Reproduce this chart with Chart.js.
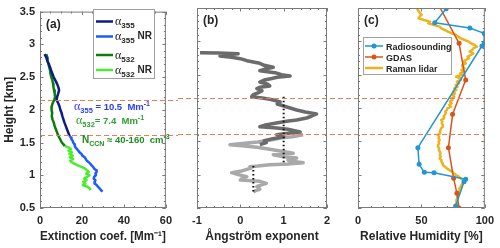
<!DOCTYPE html>
<html>
<head>
<meta charset="utf-8">
<script src="https://cdn.jsdelivr.net/npm/chart.js@4.4.1/dist/chart.umd.min.js"></script>
<style>
  body { margin: 0; background: #fff; }
  #wrap { position: relative; width: 500px; height: 248px; }
  canvas { position: absolute; top: 0; }
</style>
</head>
<body>
<div id="wrap">
  <canvas id="extChart" width="178" height="248" style="left:0"></canvas>
  <canvas id="angChart" width="160" height="248" style="left:178px"></canvas>
  <canvas id="rhChart" width="162" height="248" style="left:338px"></canvas>
</div>
<script>
// tick labels
const heightTicks = [0.5, 1, 1.5, 2, 2.5, 3, 3.5];
const extTicks = [0, 20, 40, 60];
const angTicks = [-1, 0, 1, 2];
const rhTicks = [0, 50, 100];
// layer boundaries (dashed lines), km
const layerBounds = [2.15, 1.61];

// (a) extinction coefficient, Mm-1
const ext355H = [2.85,2.80,2.75,2.70,2.65,2.60,2.55,2.50,2.45,2.40,2.35,2.30,2.25,2.20,2.15,2.10,2.05,2.00,1.95,1.90,1.85,1.80,1.75,1.70,1.65,1.60];
const ext355  = [2.2,3.0,3.5,4.2,4.8,5.3,5.9,6.5,7.3,8.1,8.7,9.1,8.7,8.2,7.9,8.7,9.3,9.7,10.3,10.7,11.2,11.7,12.3,12.9,13.5,14.1];
const ext355NRH = [1.60,1.575,1.55,1.525,1.50,1.475,1.45,1.425,1.40,1.375,1.35,1.325,1.30,1.275,1.25,1.225,1.20,1.175,1.15,1.125,1.10,1.075,1.05,1.025,1.00,0.975,0.95,0.925,0.90,0.875,0.85,0.825,0.80,0.775,0.75];
const ext355NR  = [14.1,14.8,15.0,15.6,15.8,16.4,16.6,16.9,17.6,18.3,18.8,19.8,20.2,21.3,21.8,22.2,23.2,24.0,24.6,25.4,25.9,26.8,27.0,26.4,26.6,25.8,25.6,26.4,26.2,26.0,27.0,27.6,28.4,29.0,29.8];
const ext532H = [2.85,2.80,2.75,2.70,2.65,2.60,2.55,2.50,2.45,2.40,2.35,2.30,2.25,2.20,2.15,2.10,2.05,2.00,1.95,1.90,1.85,1.80,1.75,1.70,1.65,1.60,1.55,1.50,1.45];
const ext532  = [3.0,3.4,3.6,4.0,4.4,4.8,5.0,5.4,5.9,6.2,6.4,6.7,7.0,7.2,6.8,6.0,5.6,5.5,5.8,5.6,6.0,6.6,7.0,7.6,8.2,8.8,9.6,10.4,11.8];
const ext532NRH = [1.45,1.425,1.40,1.375,1.35,1.325,1.30,1.275,1.25,1.225,1.20,1.175,1.15,1.125,1.10,1.075,1.05,1.025,1.00,0.975,0.95,0.925,0.90,0.875,0.85,0.825,0.80,0.775];
const ext532NR  = [11.8,13.5,14.8,13.6,15.2,14.0,15.6,14.2,15.8,14.4,15.0,16.5,18.0,20.0,21.5,22.4,23.2,22.0,23.6,22.4,21.0,22.2,20.6,21.6,20.4,22.6,23.6,24.2];

// (b) Angstrom exponent
const angUpperH = [2.83,2.825,2.815,2.80,2.78,2.76,2.74,2.71,2.69,2.67,2.64,2.61,2.58,2.56,2.53,2.50,2.48,2.46,2.44,2.42,2.39,2.36,2.33,2.31,2.29,2.26,2.23,2.20,2.17,2.15,2.13,2.11,2.09,2.06,2.03,2.00,1.97,1.94,1.91,1.88,1.85,1.82,1.80,1.77,1.74,1.72,1.70,1.68,1.66,1.64,1.62,1.60,1.57,1.54,1.51,1.48,1.45];
const angUpper  = [-0.93,-0.5,-0.05,-0.3,-0.47,-0.2,0.0,0.15,0.3,0.45,0.55,0.76,0.55,0.45,0.8,0.95,1.15,0.85,0.7,0.55,0.45,0.62,0.68,0.45,0.38,0.5,0.42,0.3,0.26,0.5,0.68,0.82,0.92,0.85,1.0,1.15,1.3,1.5,1.76,1.65,1.53,1.3,1.07,0.8,0.55,0.45,0.84,1.1,1.25,1.38,1.1,0.84,1.0,0.75,0.55,0.6,0.45];
const angLowerH = [1.60,1.57,1.55,1.52,1.49,1.47,1.45,1.43,1.41,1.38,1.35,1.32,1.30,1.27,1.25,1.22,1.20,1.18,1.16,1.15,1.13,1.12,1.10,1.08,1.05,1.03,1.00,0.97,0.95,0.92,0.90,0.87,0.85,0.82,0.80,0.78,0.76,0.74];
const angLower  = [1.45,1.2,0.92,0.7,0.4,0.1,-0.24,0.1,0.38,0.68,0.95,1.22,0.76,1.0,1.3,1.1,1.2,1.45,1.1,0.68,0.4,0.22,0.25,0.15,0.0,-0.2,-0.05,0.15,0.05,0.0,0.45,0.6,0.5,0.38,0.42,0.45,0.35,0.3];
// layer mean values (dotted)
const angMeanUpperH = [2.17, 1.15];
const angMeanUpper  = [1.0, 1.0];
const angMeanLowerH = [1.13, 0.71];
const angMeanLower  = [0.3, 0.3];

// (c) relative humidity, %
const radioH  = [3.49,3.28,3.20,3.12,2.97,2.93,1.405,1.155,1.035,1.03,0.93,0.895,0.53];
const radioRH = [69.5,60.5,88.2,99.5,99.5,97.7,47.2,48.2,52.3,60,84.9,83.6,77];
const gdasH  = [3.62,2.97,2.42,1.905,1.405,0.945,0.72,0.5];
const gdasRH = [61.5,79.7,84.9,74.6,71.3,75.4,78,79.7];
const ramanH = [3.50,3.46,3.42,3.40,3.37,3.345,3.32,3.295,3.27,3.245,3.22,3.19,3.17,3.145,3.12,3.095,3.07,3.045,3.02,2.995,2.97,2.945,2.92,2.895,2.87,2.845,2.82,2.795,2.77,2.745,2.72,2.695,2.67,2.645,2.62,2.595,2.57,2.545,2.52,2.495,2.47,2.445,2.42,2.395,2.37,2.345,2.32,2.295,2.27,2.245,2.22,2.195,2.17,2.145,2.12,2.095,2.07,2.045,2.02,1.995,1.97,1.945,1.92,1.895,1.87,1.845,1.82,1.795,1.77,1.745,1.72,1.695,1.67,1.645,1.62,1.595,1.57,1.545,1.52,1.495,1.47,1.445,1.42,1.395,1.37,1.345,1.32,1.295,1.27,1.245,1.22,1.195,1.17,1.145,1.12,1.095,1.07,1.045,1.02,0.995,0.97,0.945,0.93,0.91,0.895,0.87,0.845,0.82,0.795,0.77,0.745,0.72,0.695,0.67,0.645,0.62,0.595,0.57,0.545,0.52,0.5];
const ramanRH = [46.4,47.5,49.0,50.2,48.5,47.7,52,56.7,55.4,60,64.4,66,68.5,70.8,74,77.2,79,81,84,87.4,89,92,93.8,91,90,88,91,89,86.5,87.5,84.9,83,85,82.5,82.3,84,81.5,83.6,80.5,82,77.2,80.5,81,78,79.7,77,78.5,76,77.5,75,76.5,74.5,75.9,73.5,74.5,72.5,73.8,72,73.3,70.5,70,68.8,69.2,68.2,67.5,67.8,65.6,66.5,66,66.8,66.9,65.5,65.1,64.5,64.8,63,64,63.5,64.4,63.5,64,63.2,63,64,63.8,64.6,65.1,64.5,65.2,64.4,65.5,65.8,66.5,66.9,68.5,70,72,74,75.5,77.2,79.5,81,82.3,83.5,83.6,82.5,81.5,81,80.2,80,79.5,79.2,78.8,78.5,78.3,78,78,77.6,77.5,77.3,77.2];

const ink = '#262626';
const sans = "'Liberation Sans', Arial, sans-serif";
const serif = "'Liberation Serif', 'Times New Roman', serif";
Chart.defaults.font.family = sans;
Chart.defaults.color = ink;

function pairs(xs, hs) {
    return xs.map((v, i) => ({ x: v, y: hs[i] }));
}

function trace(label, xs, hs, color, width, extra) {
    return Object.assign({
        label: label,
        data: pairs(xs, hs),
        showLine: true,
        borderColor: color,
        backgroundColor: color,
        borderWidth: width,
        borderJoinStyle: 'round',
        pointRadius: 0
    }, extra || {});
}

// text with sub/superscripts: parts = [text, font, dy]
function drawRich(ctx, x, y, parts, color) {
    ctx.fillStyle = color;
    ctx.textAlign = 'left';
    ctx.textBaseline = 'alphabetic';
    parts.forEach(p => {
        ctx.font = p[1];
        ctx.fillText(p[0], x, y + (p[2] || 0));
        x += ctx.measureText(p[0]).width;
    });
}

function drawAlphaLegend(chart) {
    const ctx = chart.ctx;
    const rows = [21.5, 36.5, 55, 70];
    ctx.fillStyle = '#fff';
    ctx.fillRect(93, 9, 61, 69);
    ctx.strokeStyle = '#a0a0a0';
    ctx.lineWidth = 1;
    ctx.strokeRect(93.5, 9.5, 61, 69);
    chart.data.datasets.forEach((ds, i) => {
        const yy = rows[i];
        ctx.strokeStyle = ds.borderColor;
        ctx.lineWidth = 2.5;
        ctx.beginPath();
        ctx.moveTo(96, yy);
        ctx.lineTo(113, yy);
        ctx.stroke();
        const m = ds.label.match(/^(α)(\d+)(.*)$/);
        drawRich(ctx, 115, yy + 3.5, [
            [m[1], '12px ' + serif, 0],
            [m[2], 'bold 8px ' + sans, 3],
            [m[3], 'bold 10px ' + sans, -1]
        ], ink);
    });
}

function drawRhLegend(chart) {
    const ctx = chart.ctx;
    const rows = [46, 57, 68];
    ctx.fillStyle = '#fff';
    ctx.fillRect(25, 37, 88, 37);
    ctx.strokeStyle = '#a0a0a0';
    ctx.lineWidth = 1;
    ctx.strokeRect(25.5, 37.5, 88, 37);
    chart.data.datasets.forEach((ds, i) => {
        const yy = rows[i];
        ctx.strokeStyle = ds.borderColor;
        ctx.lineWidth = ds.borderWidth;
        ctx.beginPath();
        ctx.moveTo(27, yy);
        ctx.lineTo(45, yy);
        ctx.stroke();
        if (ds.pointRadius > 0) {
            ctx.fillStyle = ds.borderColor;
            ctx.beginPath();
            ctx.arc(36, yy, ds.pointRadius, 0, Math.PI * 2);
            ctx.fill();
        }
        drawRich(ctx, 48, yy + 3.5, [[ds.label, 'bold 9px ' + sans, 0]], ink);
    });
}

function drawNotes(ctx) {
    drawRich(ctx, 74, 110, [
        ['α', '12px ' + serif, 0], ['355', 'bold 7.5px ' + sans, 3],
        [' = 10.5  Mm', 'bold 9.5px ' + sans, 0], ['-1', 'bold 7px ' + sans, -4]
    ], '#2a3cf5');
    drawRich(ctx, 76, 124, [
        ['α', '12px ' + serif, 0], ['532', 'bold 7.5px ' + sans, 3],
        ['= 7.4  Mm', 'bold 9.5px ' + sans, 0], ['-1', 'bold 7px ' + sans, -4]
    ], '#2f9f2f');
    drawRich(ctx, 82, 143, [
        ['N', 'bold 10px ' + sans, 0], ['CCN', 'bold 7px ' + sans, 3],
        [' ≈ 40-160  cm', 'bold 9.5px ' + sans, 0], ['-3', 'bold 7px ' + sans, -4]
    ], '#1f8f1f');
}

// box, inward ticks, layer lines, legends
const framePlugin = {
    id: 'frame',
    afterDatasetsDraw(chart, args, opts) {
        const ctx = chart.ctx;
        const a = chart.chartArea;
        const sx = chart.scales.x, sy = chart.scales.y;
        ctx.save();

        // dashed layer boundaries, running across the panel gaps
        ctx.strokeStyle = '#ee7d55';
        ctx.lineWidth = 1.2;
        ctx.setLineDash([5, 3]);
        layerBounds.forEach(h => {
            const py = Math.round(sy.getPixelForValue(h)) + 0.5;
            ctx.beginPath();
            ctx.moveTo(opts.lineFrom === 'edge' ? 0 : a.left, py);
            ctx.lineTo(opts.lineTo === 'edge' ? chart.width : a.right, py);
            ctx.stroke();
        });
        ctx.setLineDash([]);

        // box
        ctx.strokeStyle = '#7a7a7a';
        ctx.lineWidth = 1;
        ctx.strokeRect(a.left + 0.5, a.top + 0.5, a.right - a.left - 1, a.bottom - a.top - 1);

        // inward ticks
        ctx.beginPath();
        const nx = Math.round((sx.max - sx.min) / opts.xMinor);
        for (let i = 0; i <= nx; i++) {
            const v = sx.min + i * opts.xMinor;
            const r = v / opts.xMajor;
            const len = Math.abs(r - Math.round(r)) < 1e-6 ? 3.5 : 2;
            const px = Math.round(sx.getPixelForValue(v)) + 0.5;
            ctx.moveTo(px, a.bottom); ctx.lineTo(px, a.bottom - len);
            ctx.moveTo(px, a.top); ctx.lineTo(px, a.top + len);
        }
        const ny = Math.round((sy.max - sy.min) / 0.1);
        for (let i = 0; i <= ny; i++) {
            const v = sy.min + i * 0.1;
            const r = v / 0.5;
            const len = Math.abs(r - Math.round(r)) < 1e-6 ? 3.5 : 2;
            const py = Math.round(sy.getPixelForValue(v)) + 0.5;
            ctx.moveTo(a.left, py); ctx.lineTo(a.left + len, py);
            ctx.moveTo(a.right, py); ctx.lineTo(a.right - len, py);
        }
        ctx.stroke();

        if (opts.legend === 'alpha') {
            drawAlphaLegend(chart);
            drawNotes(ctx);
        }
        if (opts.legend === 'rh') drawRhLegend(chart);

        // panel tag
        ctx.fillStyle = ink;
        ctx.font = 'bold 12px ' + sans;
        ctx.textAlign = 'left';
        ctx.textBaseline = 'middle';
        ctx.fillText(opts.tag, a.left + 6, a.top + 13);
        ctx.restore();
    }
};

const tickFont = { size: 11, weight: 'bold' };
const titleFont = { size: 12, weight: 'bold' };

function panel(id, datasets, xr, frame, showY) {
    return new Chart(document.getElementById(id), {
        type: 'scatter',
        data: { datasets: datasets },
        options: {
            responsive: false,
            animation: false,
            events: [],
            layout: { padding: frame.padding },
            plugins: {
                legend: { display: false },
                tooltip: { enabled: false },
                frame: frame
            },
            scales: {
                x: {
                    type: 'linear',
                    min: xr.min,
                    max: xr.max,
                    grid: { display: false, drawTicks: false },
                    border: { display: false },
                    afterBuildTicks: s => { s.ticks = xr.ticks.map(v => ({ value: v })); },
                    afterFit: s => { s.height = 40; },
                    ticks: { padding: 6, font: tickFont, color: ink, autoSkip: false, maxRotation: 0, callback: v => String(v) },
                    title: { display: true, text: xr.title, font: titleFont, color: ink, padding: { top: 4, bottom: 4 } }
                },
                y: {
                    type: 'linear',
                    display: showY,
                    min: 0.5,
                    max: 3.5,
                    grid: { display: false, drawTicks: false },
                    border: { display: false },
                    afterBuildTicks: s => { s.ticks = heightTicks.map(v => ({ value: v })); },
                    afterFit: s => { s.width = showY ? 40 : 0; },
                    ticks: { padding: 5, font: tickFont, color: ink, autoSkip: false, callback: v => String(v) },
                    title: { display: true, text: 'Height [km]', font: titleFont, color: ink, padding: { top: 2, bottom: 2 } }
                }
            }
        },
        plugins: [framePlugin]
    });
}

panel('extChart', [
    trace('α355', ext355, ext355H, '#0d1b85', 2.5),
    trace('α355 NR', ext355NR, ext355NRH, '#1f5cff', 2.5),
    trace('α532', ext532, ext532H, '#0c7d0c', 2.5),
    trace('α532 NR', ext532NR, ext532NRH, '#47ee2a', 2.5)
], { min: 0, max: 60, ticks: extTicks, title: 'Extinction coef. [Mm⁻¹]' },
   { tag: '(a)', xMinor: 5, xMajor: 20, lineFrom: 'area', lineTo: 'edge', legend: 'alpha',
     padding: { left: 0, right: 9, top: 8, bottom: 0 } }, true);

panel('angChart', [
    trace('mean upper', angMeanUpper, angMeanUpperH, '#111111', 2, { borderDash: [1.5, 2.5], borderJoinStyle: 'miter' }),
    trace('mean lower', angMeanLower, angMeanLowerH, '#111111', 2, { borderDash: [1.5, 2.5], borderJoinStyle: 'miter' }),
    trace('upper', angUpper, angUpperH, '#6b6b6b', 3.5),
    trace('lower', angLower, angLowerH, '#a9a9a9', 3.5)
], { min: -1, max: 2, ticks: angTicks, title: 'Ångström exponent' },
   { tag: '(b)', xMinor: 0.2, xMajor: 1, lineFrom: 'edge', lineTo: 'edge', legend: 'none',
     padding: { left: 19, right: 11, top: 8, bottom: 0 } }, false);

panel('rhChart', [
    trace('Radiosounding', radioRH, radioH, '#2196d3', 1.5, { pointRadius: 2.5, pointBorderWidth: 0 }),
    trace('GDAS', gdasRH, gdasH, '#d9541a', 1.5, { pointRadius: 2.5, pointBorderWidth: 0 }),
    trace('Raman lidar', ramanRH, ramanH, '#efb21e', 2.5)
], { min: 0, max: 100, ticks: rhTicks, title: 'Relative Humidity [%]' },
   { tag: '(c)', xMinor: 10, xMajor: 50, lineFrom: 'edge', lineTo: 'area', legend: 'rh',
     padding: { left: 20, right: 12, top: 8, bottom: 0 } }, false);
</script>
</body>
</html>
